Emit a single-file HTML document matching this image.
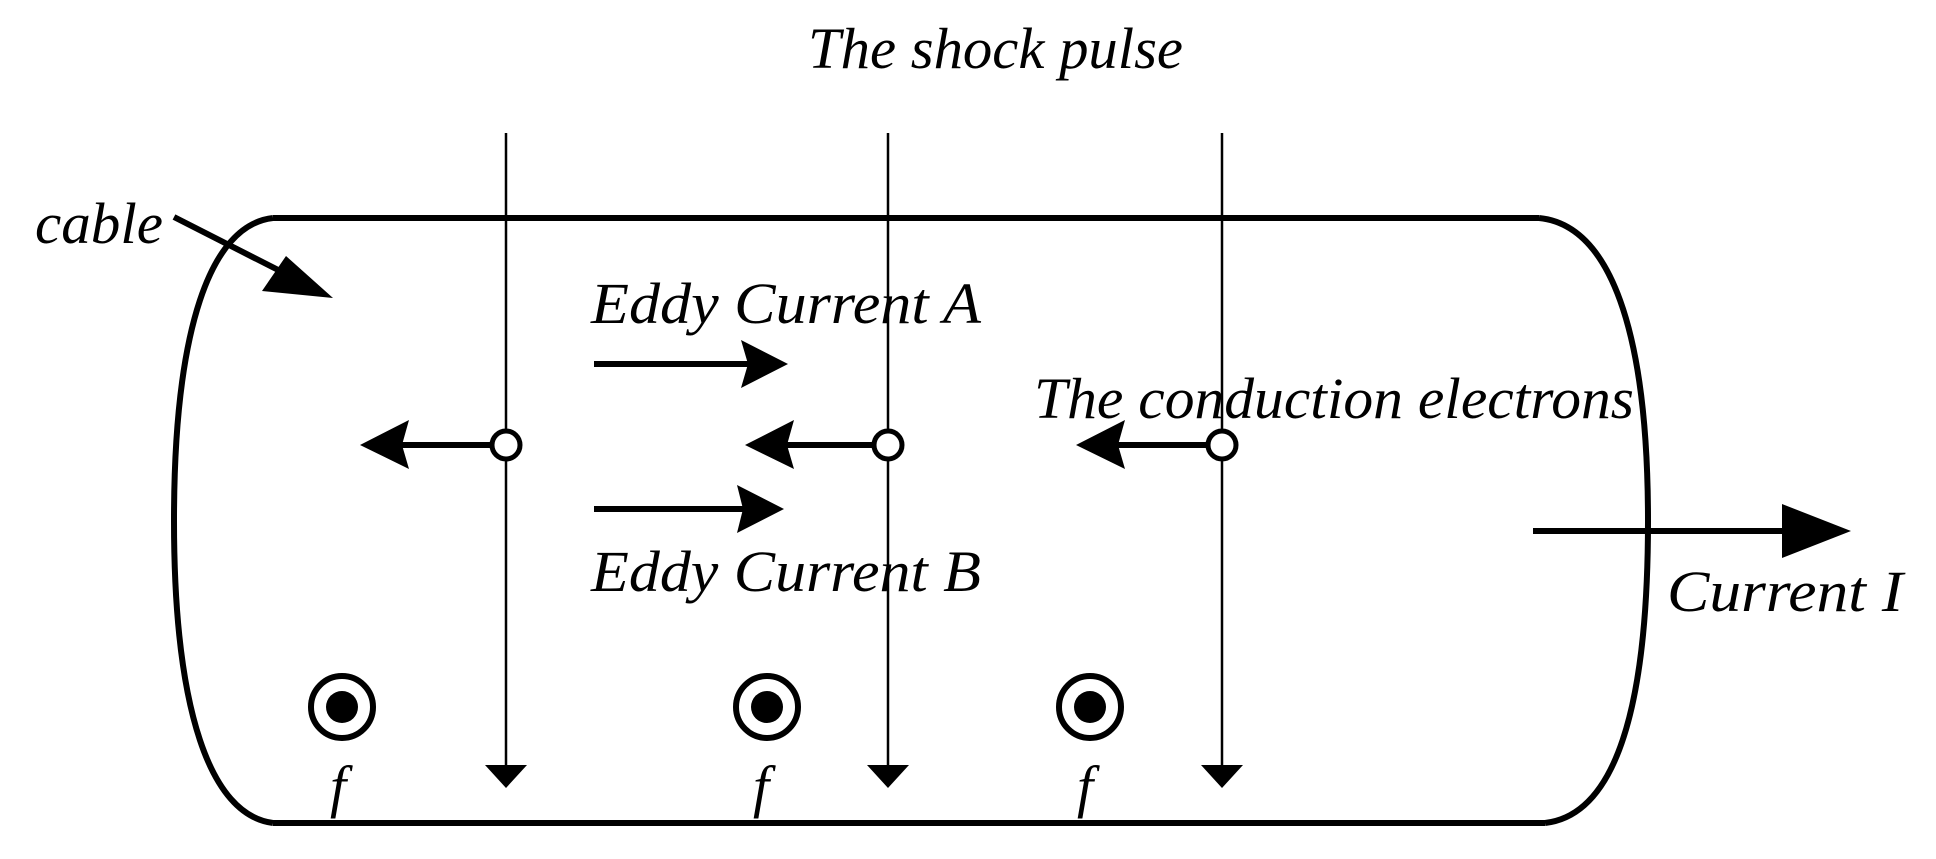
<!DOCTYPE html>
<html><head><meta charset="utf-8"><style>
html,body{margin:0;padding:0;background:#fff;}
svg{display:block}
text{font-family:"Liberation Serif",serif;font-style:italic;fill:#000}
</style></head><body>
<svg width="1936" height="859" viewBox="0 0 1936 859" xmlns="http://www.w3.org/2000/svg">
<text x="808" y="68" font-size="58" textLength="375" lengthAdjust="spacingAndGlyphs">The shock pulse</text>
<g fill="none" stroke="#000" stroke-width="6">
<line x1="273" y1="218" x2="1539" y2="218"/>
<line x1="273" y1="823" x2="1545" y2="823"/>
<path d="M273 218 C 210 225, 174 330, 174 521 C 174 710, 210 815, 273 823"/>
<path d="M1539 218 C 1610 225, 1648 330, 1648 521 C 1648 710, 1615 815, 1545 823"/>
</g>
<g stroke="#000" stroke-width="2.5">
<line x1="506" y1="133" x2="506" y2="770"/>
<line x1="888" y1="133" x2="888" y2="770"/>
<line x1="1222" y1="133" x2="1222" y2="770"/>
</g>
<g fill="#000">
<polygon points="485,765 527,765 506,788"/>
<polygon points="867,765 909,765 888,788"/>
<polygon points="1201,765 1243,765 1222,788"/>
</g>
<g stroke="#000" stroke-width="6">
<line x1="402" y1="445" x2="492" y2="445"/>
<line x1="787" y1="445" x2="873" y2="445"/>
<line x1="1118" y1="445" x2="1207" y2="445"/>
</g>
<g fill="#000">
<polygon points="360,445 409,420 402,445 409,469"/>
<polygon points="745,445 794,420 787,445 794,469"/>
<polygon points="1076,445 1125,420 1118,445 1125,469"/>
</g>
<g fill="#fff" stroke="#000" stroke-width="5">
<circle cx="506" cy="445" r="14"/>
<circle cx="888" cy="445" r="14"/>
<circle cx="1222" cy="445" r="14"/>
</g>
<g stroke="#000" stroke-width="6">
<line x1="594" y1="364" x2="748" y2="364"/>
<line x1="594" y1="509" x2="743" y2="509"/>
<line x1="1533" y1="531" x2="1792" y2="531"/>
</g>
<g fill="#000">
<polygon points="788,364 741,340 748,364 741,388"/>
<polygon points="784,509 737,485 743,509 737,533"/>
<polygon points="1851,531 1782,504 1782,558"/>
</g>
<line x1="174" y1="217" x2="290" y2="276" stroke="#000" stroke-width="6"/>
<polygon points="333,298 262,291 286,256" fill="#000"/>
<g fill="none" stroke="#000" stroke-width="6">
<circle cx="342" cy="707" r="31"/>
<circle cx="767" cy="707" r="31"/>
<circle cx="1090" cy="707" r="31"/>
</g>
<g fill="#000">
<circle cx="342" cy="707" r="16"/>
<circle cx="767" cy="707" r="16"/>
<circle cx="1090" cy="707" r="16"/>
</g>
<text x="35" y="243" font-size="58" textLength="128" lengthAdjust="spacingAndGlyphs">cable</text>
<text x="591" y="323" font-size="58" textLength="390" lengthAdjust="spacingAndGlyphs">Eddy Current  A</text>
<text x="591" y="591" font-size="58" textLength="390" lengthAdjust="spacingAndGlyphs">Eddy Current  B</text>
<text x="1034" y="418" font-size="58" textLength="600" lengthAdjust="spacingAndGlyphs">The conduction electrons</text>
<text x="1667" y="611" font-size="58" textLength="236" lengthAdjust="spacingAndGlyphs">Current  I</text>
<text x="330" y="806" font-size="58">f</text>
<text x="753" y="806" font-size="58">f</text>
<text x="1077" y="806" font-size="58">f</text>
</svg>
</body></html>
